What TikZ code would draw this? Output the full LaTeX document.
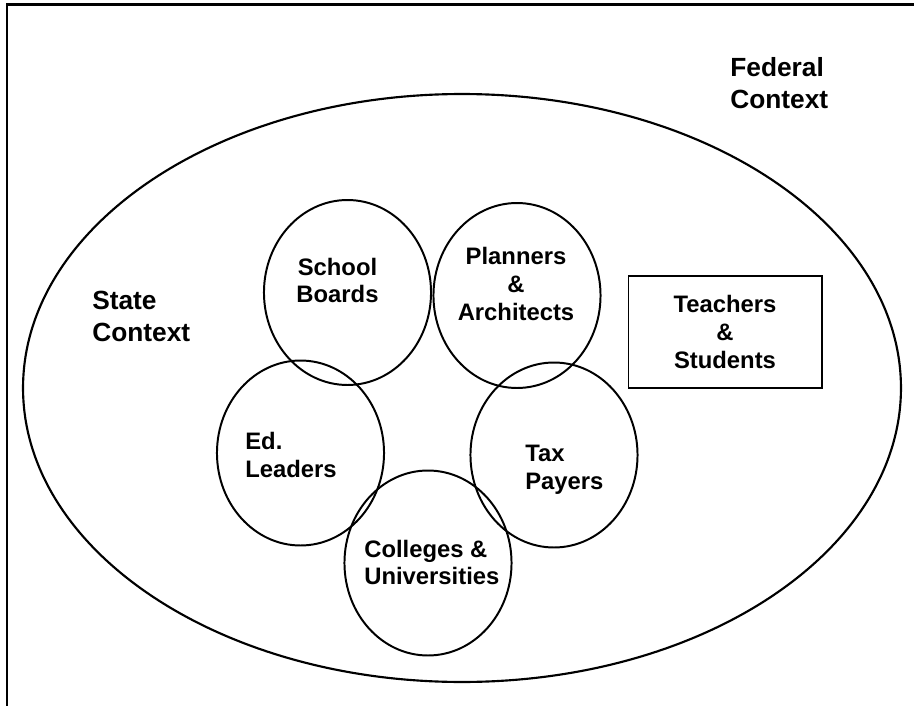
\documentclass[tikz,border=0pt]{standalone}
\usepackage{fontspec}
\setmainfont{Liberation Sans}
\usetikzlibrary{shapes.geometric}

\begin{document}
\begin{tikzpicture}[
    x=0.6087pt, y=-0.6087pt,
    contextnode/.style={ellipse, draw=black, line width=1.3pt, minimum width=534.4pt, minimum height=357.9pt, inner sep=0pt},
    groupnode/.style={ellipse, draw=black, line width=1.2pt, minimum width=101.7pt, minimum height=112.6pt, inner sep=0pt},
    boxnode/.style={rectangle, draw=black, line width=1.2pt, minimum width=117.5pt, minimum height=67.6pt, inner sep=0pt},
    namenode/.style={font=\bfseries\fontsize{14.5}{17}\selectfont, inner sep=0pt, align=left},
    bignamenode/.style={font=\bfseries\fontsize{16}{19.5}\selectfont, inner sep=0pt, align=left, anchor=west}
]
\useasboundingbox (0,0) rectangle (914,706);
% frame, only its top and left edges fall on the page
\draw[line width=1.6pt] (7,706) -- (7,4.5) -- (914,4.5);

\node[contextnode](state) at (462,388){};
\node[bignamenode](federallabel) at (730,83){Federal\\Context};
\node[bignamenode](statelabel) at (92,316){State\\Context};

% the five overlapping groups
\node[groupnode](boards) at (347.5,292.5){};
\node[groupnode](planners) at (517,295.5){};
\node[groupnode](leaders) at (300.5,453){};
\node[groupnode](payers) at (554,455){};
\node[groupnode](colleges) at (428,563){};

\node[namenode, align=center](boardslabel) at (337.5,280.5){School\\Boards};
\node[namenode, align=center](plannerslabel) at (516,284){Planners\\\&\\Architects};
\node[namenode, anchor=west](leaderslabel) at (245,455){Ed.\\Leaders};
\node[namenode, anchor=west](payerslabel) at (525,470){Tax\\Payers};
\node[namenode, anchor=west](collegeslabel) at (364,562.5){Colleges \&\\Universities};

\node[boxnode, namenode, align=center](teachers) at (725,332){Teachers\\\&\\Students};
\end{tikzpicture}
\end{document}
